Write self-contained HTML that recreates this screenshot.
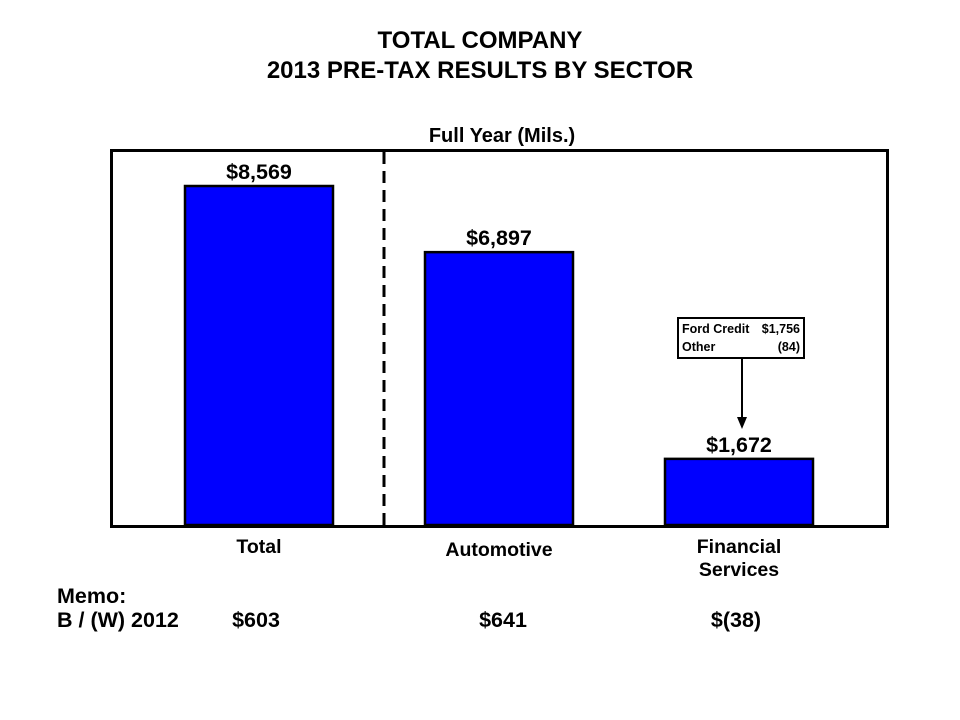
<!DOCTYPE html>
<html><head><meta charset="utf-8"><style>
body{margin:0;background:#fff;width:960px;height:720px;overflow:hidden}
svg{display:block;font-family:"Liberation Sans",Arial,sans-serif;font-weight:bold}
</style></head><body>
<svg id="c" width="960" height="720">
<text x="480" y="48" font-size="24" text-anchor="middle">TOTAL COMPANY</text>
<text x="480" y="78" font-size="24" text-anchor="middle">2013 PRE-TAX RESULTS BY SECTOR</text>
<text x="502" y="142" font-size="20" text-anchor="middle">Full Year (Mils.)</text>
<rect x="111.5" y="150.5" width="776" height="376" fill="none" stroke="#000" stroke-width="3"/>
<line x1="384" y1="152" x2="384" y2="525" stroke="#000" stroke-width="3" stroke-dasharray="12,7"/>
<g id="bars"></g>
<rect x="678" y="318" width="126" height="40" fill="#fff" stroke="#000" stroke-width="2"/>
<text x="682" y="333" font-size="12.5">Ford Credit</text>
<text x="800" y="333" font-size="12.5" text-anchor="end">$1,756</text>
<text x="682" y="351" font-size="12.5">Other</text>
<text x="800" y="351" font-size="12.5" text-anchor="end">(84)</text>
<line x1="742" y1="358" x2="742" y2="418" stroke="#000" stroke-width="2"/>
<polygon points="737,417 747,417 742,429" fill="#000"/>
<text x="57" y="603" font-size="21.5">Memo:</text>
<text x="57" y="627" font-size="21.5">B / (W) 2012</text>
<g id="memo"></g>
</svg>
<script>
const categories=["Total","Automotive","Financial Services"];
const values=[8569,6897,1672];
const valueLabels=["$8,569","$6,897","$1,672"];
const memoLabels=["$603","$641","$(38)"];
const NS="http://www.w3.org/2000/svg";
const base=525, scale=339/8569, barW=148;
const centers=[259,499,739];
function y(v){return base-v*scale;}
const g=document.getElementById('bars'), m=document.getElementById('memo');
function el(t,a,p,txt){const e=document.createElementNS(NS,t);for(const k in a)e.setAttribute(k,a[k]);if(txt)e.textContent=txt;p.appendChild(e);return e;}
values.forEach((v,i)=>{
 const cx=centers[i];
 const r=el('rect',{x:cx-barW/2,y:y(v),width:barW,height:base-y(v),fill:'#0000ff',stroke:'#000','stroke-width':2.5},g);
 
 
 const t=el('text',{x:cx,y:y(v)-7,'font-size':21.5,'text-anchor':'middle'},g,valueLabels[i]);
 
 
 const words=categories[i]=="Financial Services"?["Financial","Services"]:[categories[i]];
 words.forEach((w,j)=>{
  const yy=words.length>1?553+j*23:(i==0?553:556);
  const c=el('text',{x:cx,y:yy,'font-size':19.5,'text-anchor':'middle'},g,w);
  
  
 });
 const mcx=[256,503,736][i];
 const mt=el('text',{x:mcx,y:627,'font-size':21.5,'text-anchor':'middle'},m,memoLabels[i]);
 
 
});
</script>
</body></html>
